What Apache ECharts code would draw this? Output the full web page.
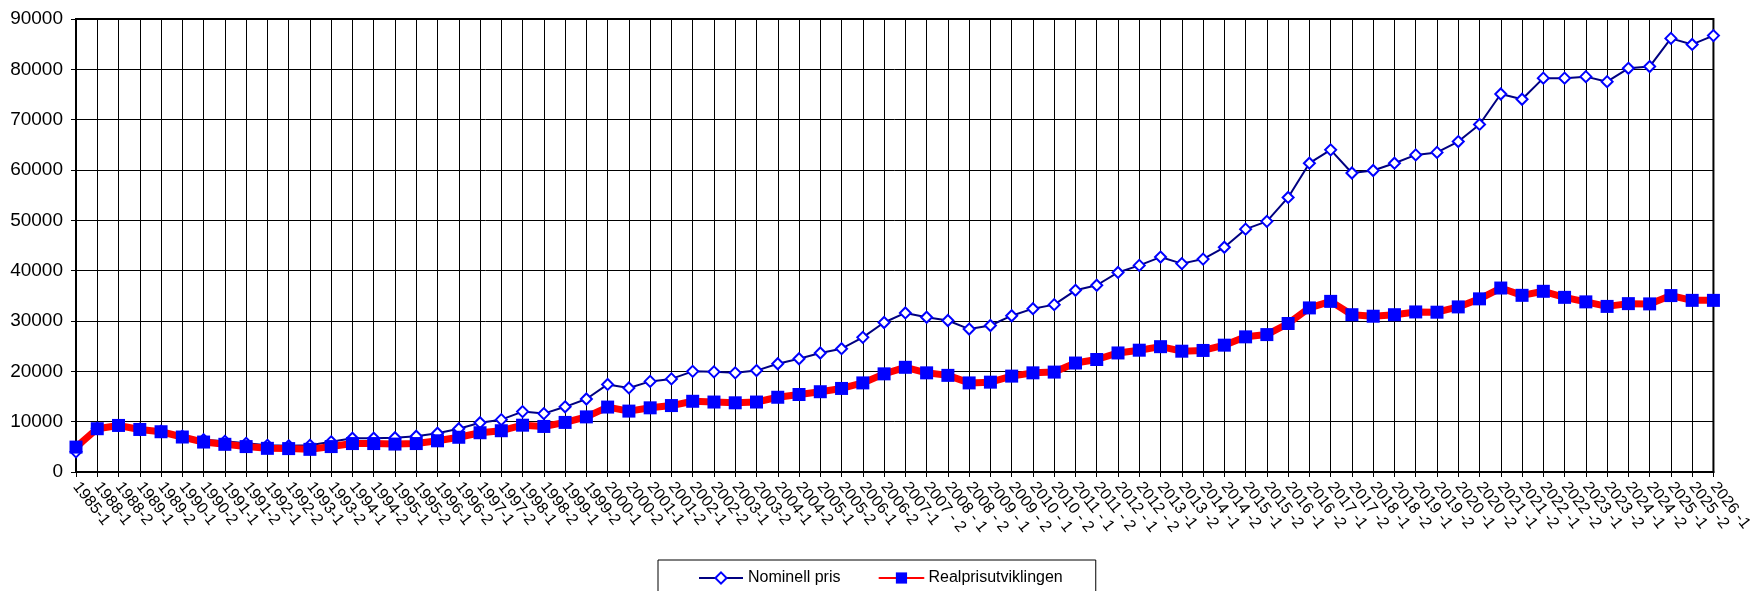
<!DOCTYPE html>
<html>
<head>
<meta charset="utf-8">
<script src="https://cdn.jsdelivr.net/npm/echarts@6/dist/echarts.min.js"></script>
<style>
html,body{margin:0;padding:0;background:#fff;}
#chart{width:1755px;height:591px;}
</style>
</head>
<body>
<div id="chart"></div>
<script>
const categories = [
'1985-1','1988-1','1988-2','1989-1','1989-2','1990-1','1990-2','1991-1','1991-2','1992-1','1992-2',
'1993-1','1993-2','1994-1','1994-2','1995-1','1995-2','1996-1','1996-2','1997-1','1997-2','1998-1','1998-2',
'1999-1','1999-2','2000-1','2000-2','2001-1','2001-2','2002-1','2002-2','2003-1','2003-2','2004-1','2004-2',
'2005-1','2005-2','2006-1','2006-2','2007-1','2007 - 2','2008 - 1','2008 - 2','2009 - 1','2009 - 2',
'2010 - 1','2010 - 2','2011 - 1','2011 - 2','2012 - 1','2012 - 2','2013 -1','2013 -2','2014 -1','2014 -2',
'2015 -1','2015 -2','2016 -1','2016 -2','2017 -1','2017 -2','2018 -1','2018 -2','2019 -1','2019 -2',
'2020 -1','2020 -2','2021 -1','2021 -2','2022 -1','2022 -2','2023 -1','2023 -2','2024 -1','2024 -2',
'2025 -1','2025 -2','2026 -1'
];
const nominellPris = [
4000,8700,9200,8500,8100,7100,6400,6100,5700,5300,5200,
5300,6000,6700,6700,6800,7100,7700,8600,9800,10400,12000,11600,
12950,14500,17400,16700,18000,18500,20000,19900,19700,20150,21500,22500,
23650,24500,26750,29700,31600,30750,30100,28400,29100,31050,
32450,33250,36100,37100,39650,41050,42700,41400,42300,44650,
48250,49800,54550,61350,64000,59400,59900,61350,63000,63500,
65650,69050,75100,74050,78250,78250,78550,77550,80200,80550,
86150,84950,86700
];
const realpris = [
4950,8600,9250,8450,8000,6950,5950,5500,5050,4700,4650,
4500,5050,5650,5650,5550,5650,6200,6900,7800,8200,9300,9050,
9850,10950,12900,12100,12750,13200,14050,13900,13750,13900,14850,15400,
15950,16600,17700,19500,20800,19700,19200,17700,17850,19050,
19700,19850,21650,22350,23650,24200,24900,24000,24150,25200,
26850,27300,29500,32600,33900,31250,30950,31250,31800,31750,
32800,34400,36550,35100,35900,34700,33800,32900,33450,33400,
35050,34100,34100
];
const yTicks = {min: 0, max: 90000, interval: 10000};

const chart = echarts.init(document.getElementById('chart'), null, {renderer: 'canvas'});
const font = 'Liberation Sans, Arial, sans-serif';
chart.setOption({
  animation: false,
  backgroundColor: '#fff',
  textStyle: {fontFamily: font, color: '#000'},
  grid: {left: 76, right: 35, top: 19, bottom: 119, show: true, borderColor: '#000', borderWidth: 2},
  legend: {
    left: 658, top: 560,
    padding: [10, 33, 20, 40],
    itemGap: 38, itemWidth: 44, itemHeight: 14,
    borderColor: '#000', borderWidth: 1,
    textStyle: {fontSize: 16, color: '#000', fontFamily: font},
    data: ['Nominell pris', 'Realprisutviklingen']
  },
  xAxis: {
    type: 'category', data: categories, boundaryGap: false,
    axisLine: {lineStyle: {color: '#000', width: 2}},
    axisTick: {show: true, interval: 0, length: 5, lineStyle: {color: '#000'}},
    axisLabel: {interval: 0, rotate: -52, fontSize: 16, color: '#000', margin: 12, fontFamily: font},
    splitLine: {show: true, interval: 0, lineStyle: {color: '#000', width: 1}}
  },
  yAxis: {
    type: 'value', min: yTicks.min, max: yTicks.max, interval: yTicks.interval,
    axisLine: {show: true, lineStyle: {color: '#000', width: 2}},
    axisTick: {show: true, length: 5, lineStyle: {color: '#000'}},
    axisLabel: {fontSize: 19, color: '#000', margin: 13, fontFamily: font, formatter: v => String(v)},
    splitLine: {show: true, lineStyle: {color: '#000', width: 1}}
  },
  series: [
    {
      name: 'Nominell pris', type: 'line', data: nominellPris,
      symbol: 'diamond', symbolSize: 11,
      lineStyle: {color: '#000080', width: 2},
      itemStyle: {color: '#fff', borderColor: '#0000ff', borderWidth: 2},
      z: 2
    },
    {
      name: 'Realprisutviklingen', type: 'line', data: realpris,
      symbol: 'rect', symbolSize: 13,
      lineStyle: {color: '#ff0000', width: 7, join: 'round', cap: 'round'},
      itemStyle: {color: '#0000ff', borderColor: '#0000ff', borderWidth: 0},
      z: 3
    }
  ]
});
</script>
</body>
</html>
